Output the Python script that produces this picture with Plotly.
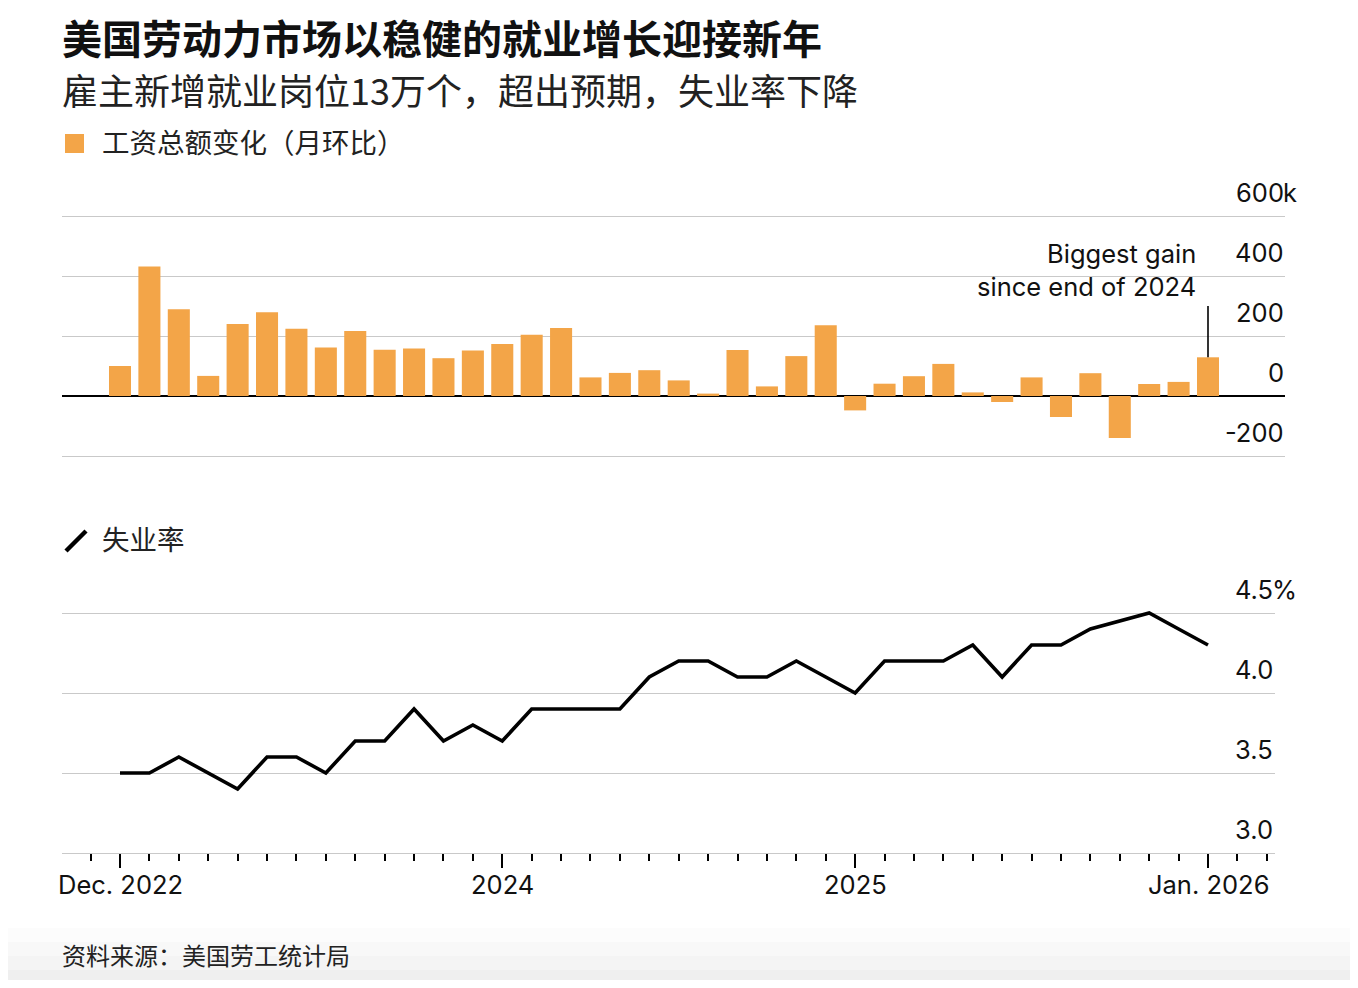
import plotly.graph_objects as go
import pandas as pd

# ---------------- data ----------------
months = pd.date_range("2022-12-01", "2026-01-01", freq="MS")
month_labels = [d.strftime("%Y-%m") for d in months]

# Nonfarm payroll change, thousands (month over month)
payrolls = [100, 432, 289, 67, 240, 279, 224, 162, 217, 154, 158, 126, 152,
            173, 204, 227, 62, 77, 86, 52, 8, 153, 32, 133, 236,
            -48, 41, 66, 107, 12, -20, 62, -70, 76, -140, 40, 47, 129]

# Unemployment rate, % (Oct 2025 not published)
unemployment = [3.5, 3.5, 3.6, 3.5, 3.4, 3.6, 3.6, 3.5, 3.7, 3.7, 3.9, 3.7, 3.8,
                3.7, 3.9, 3.9, 3.9, 3.9, 4.1, 4.2, 4.2, 4.1, 4.1, 4.2, 4.1,
                4.0, 4.2, 4.2, 4.2, 4.3, 4.1, 4.3, 4.3, 4.4, None, 4.5, 4.4, 4.3]

payroll_ticks = [-200, 0, 200, 400, 600]
payroll_tick_text = ["-200", "0", "200", "400", "600"]
payroll_unit = "k"

rate_ticks = [3.0, 3.5, 4.0, 4.5]
rate_tick_text = ["3.0", "3.5", "4.0", "4.5"]
rate_unit = "%"

x_tick_months = ["2022-12", "2024-01", "2025-01", "2026-01"]
x_tick_text = ["Dec. 2022", "2024", "2025", "Jan. 2026"]

callout_text = "Biggest gain<br>since end of 2024"
callout_top = 300

title = "美国劳动力市场以稳健的就业增长迎接新年"
subtitle = "雇主新增就业岗位13万个，超出预期，失业率下降"
legend_bar = "工资总额变化（月环比）"
legend_line = "失业率"
source = "资料来源：美国劳工统计局"

# ---------------- layout geometry (page pixels) ----------------
PAGE_W, PAGE_H = 1358, 988
OX, OY = 8, 8                      # default page body margin
W, H = PAGE_W - 2 * OX, PAGE_H - 2 * OY
BAR_COLOR = "#F3A548"
GRID = "#c9c9c9"
LATIN = "Inter, 'Liberation Sans', Arial, sans-serif"
CJK = "'Noto Sans CJK SC', 'Noto Sans', sans-serif"
TICK_SIZE = 25.5

def px(x):
    return (x - OX) / W

def py(y):
    return 1 - (y - OY) / H

x_idx = list(range(len(month_labels)))
n = len(x_idx)
first_px, last_px = 120, 1208
step = (last_px - first_px) / (n - 1)
left_px = 62
top_right_px, bot_right_px = 1285, 1275
top_range = [-(first_px - left_px) / step, (n - 1) + (top_right_px - last_px) / step]
bot_range = [-(first_px - left_px) / step, (n - 1) + (bot_right_px - last_px) / step]

# top chart: 0 at y=396 px, 0.3 px per thousand
zero_py, k_per_px = 396, 0.3
top_dom_px = (460, 210)
top_yrange = [(zero_py - top_dom_px[0]) / k_per_px, (zero_py - top_dom_px[1]) / k_per_px]

# bottom chart: 3.0 at 853 px, 160 px per 1 pt
base_py, pt_px = 853, 160
bot_top_px = 600
bot_yrange = [3.0, 3.0 + (base_py - bot_top_px) / pt_px]

fig = go.Figure()

fig.add_trace(go.Bar(
    x=x_idx, y=payrolls, marker=dict(color=BAR_COLOR, line=dict(width=0)),
    xaxis="x", yaxis="y", showlegend=False, hoverinfo="skip"))

fig.add_trace(go.Scatter(
    x=x_idx, y=unemployment, mode="lines", connectgaps=True,
    line=dict(color="black", width=3.6, shape="linear"),
    xaxis="x2", yaxis="y2", showlegend=False, hoverinfo="skip"))

tick_idx = [month_labels.index(m) for m in x_tick_months]

fig.update_layout(
    width=W, height=H,
    margin=dict(l=0, r=0, t=0, b=0),
    paper_bgcolor="white", plot_bgcolor="rgba(0,0,0,0)",
    bargap=0.25,
    xaxis=dict(domain=[px(left_px), px(top_right_px)], range=top_range,
               showgrid=False, zeroline=False, showticklabels=False,
               showline=False, ticks=""),
    yaxis=dict(domain=[py(top_dom_px[0]), py(top_dom_px[1])], range=top_yrange,
               tickvals=payroll_ticks, showticklabels=False, ticks="",
               showgrid=True, gridcolor=GRID, gridwidth=1.4,
               zeroline=True, zerolinecolor="black", zerolinewidth=2.2),
    xaxis2=dict(domain=[px(left_px), px(bot_right_px)], range=bot_range,
                anchor="y2", showgrid=False, zeroline=False,
                showline=True, linecolor=GRID, linewidth=1.4,
                tickmode="array", tickvals=tick_idx, showticklabels=False,
                ticks="outside", ticklen=14, tickwidth=1.6, tickcolor="black",
                minor=dict(tickmode="linear", tick0=0, dtick=1, ticks="outside",
                           ticklen=7, tickwidth=1.6, tickcolor="black", showgrid=False)),
    yaxis2=dict(domain=[py(base_py), py(bot_top_px)], range=bot_yrange,
                anchor="x2", tickvals=rate_ticks, showticklabels=False, ticks="",
                showgrid=True, gridcolor=GRID, gridwidth=1.4, zeroline=False),
)

annotations = []
shapes = []

# x tick labels (bottom chart)
for xi, t in zip(tick_idx, x_tick_text):
    annotations.append(dict(xref="x2", yref="paper", x=xi, y=py(884), text=t,
                            xanchor="center", yanchor="middle", showarrow=False,
                            font=dict(family=LATIN, size=TICK_SIZE, color="#111")))

# y tick labels (top chart)
for i, (v, t) in enumerate(zip(payroll_ticks, payroll_tick_text)):
    annotations.append(dict(xref="paper", yref="y", x=px(1286), y=v, text=t,
                            xanchor="right", yanchor="middle", yshift=24, showarrow=False,
                            font=dict(family=LATIN, size=TICK_SIZE, color="#111")))
    if i == len(payroll_ticks) - 1:
        annotations.append(dict(xref="paper", yref="y", x=px(1286), y=v, text=payroll_unit,
                                xanchor="left", yanchor="middle", yshift=24, xshift=-5,
                                showarrow=False,
                                font=dict(family=LATIN, size=TICK_SIZE, color="#111")))

# y tick labels (bottom chart)
for i, (v, t) in enumerate(zip(rate_ticks, rate_tick_text)):
    annotations.append(dict(xref="paper", yref="y2", x=px(1275), y=v, text=t,
                            xanchor="right", yanchor="middle", yshift=24, showarrow=False,
                            font=dict(family=LATIN, size=TICK_SIZE, color="#111")))
    if i == len(rate_ticks) - 1:
        annotations.append(dict(xref="paper", yref="y2", x=px(1275), y=v, text=rate_unit,
                                xanchor="left", yanchor="middle", yshift=24, xshift=-5,
                                showarrow=False,
                                font=dict(family=LATIN, size=TICK_SIZE, color="#111")))

# callout
annotations.append(dict(xref="x", yref="paper", x=x_idx[-1], xshift=-10, y=py(270),
                        text=callout_text, align="right", xanchor="right", yanchor="middle",
                        showarrow=False, font=dict(family=LATIN, size=TICK_SIZE, color="#111")))
shapes.append(dict(type="line", xref="x", yref="y", x0=x_idx[-1], x1=x_idx[-1],
                   y0=payrolls[-1], y1=callout_top, line=dict(color="black", width=1.6)))

# titles
annotations.append(dict(xref="paper", yref="paper", x=px(60), y=py(37), text=title,
                        xanchor="left", yanchor="middle", showarrow=False,
                        font=dict(family=CJK, size=40, color="#111", weight=700)))
annotations.append(dict(xref="paper", yref="paper", x=px(60), y=py(89), text=subtitle,
                        xanchor="left", yanchor="middle", showarrow=False,
                        font=dict(family=CJK, size=36, color="#222")))

# legends
shapes.append(dict(type="rect", xref="paper", yref="paper",
                   x0=px(65), x1=px(84), y0=py(153), y1=py(134),
                   fillcolor=BAR_COLOR, line=dict(width=0)))
annotations.append(dict(xref="paper", yref="paper", x=px(100), y=py(141), text=legend_bar,
                        xanchor="left", yanchor="middle", showarrow=False,
                        font=dict(family=CJK, size=27.5, color="#222")))
shapes.append(dict(type="line", xref="paper", yref="paper",
                   x0=px(66), x1=px(86), y0=py(551), y1=py(531),
                   line=dict(color="black", width=4.5)))
annotations.append(dict(xref="paper", yref="paper", x=px(100), y=py(538), text=legend_line,
                        xanchor="left", yanchor="middle", showarrow=False,
                        font=dict(family=CJK, size=27.5, color="#222")))

# bottom band (soft gray gradient)
for (y0, y1, c) in [(928, 942, "#fcfcfc"), (942, 956, "#f8f8f8"), (956, 970, "#f4f4f4"),
                    (970, PAGE_H - OY, "#efefef")]:
    shapes.append(dict(type="rect", xref="paper", yref="paper", layer="below",
                       x0=0, x1=1, y0=py(y1), y1=py(y0), fillcolor=c, line=dict(width=0)))

annotations.append(dict(xref="paper", yref="paper", x=px(60), y=py(954), text=source,
                        xanchor="left", yanchor="middle", showarrow=False,
                        font=dict(family=CJK, size=24, color="#222")))

fig.update_layout(annotations=annotations, shapes=shapes)

fig.write_html("out.html", config={"displayModeBar": False})
